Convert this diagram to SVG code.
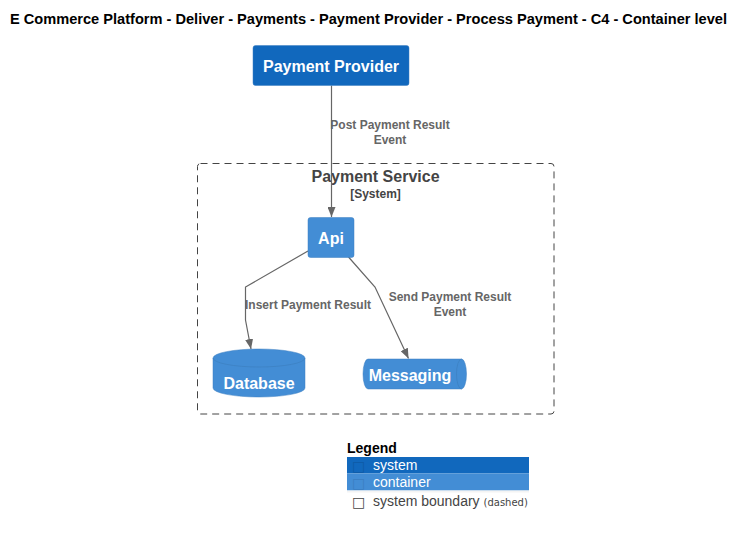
<svg xmlns="http://www.w3.org/2000/svg" width="743" height="535" viewBox="0 0 743 535">
<defs>
<style>
.t{font-family:"Liberation Sans",Arial,sans-serif}
.title{font-size:14.5px;font-weight:bold;fill:#000}
.nl{font-size:16px;font-weight:bold;fill:#fff;text-anchor:middle}
.el{font-size:12px;font-weight:bold;fill:#666;text-anchor:middle}
.edge{fill:none;stroke:#666;stroke-width:1.2;marker-end:url(#ah)}
.lg{font-size:14px}
.tofu{font-family:"DejaVu Sans",sans-serif;font-size:14px}
</style>
<marker id="ah" viewBox="0 0 10 8" refX="10" refY="4" markerWidth="10" markerHeight="8" markerUnits="userSpaceOnUse" orient="auto">
<path d="M0,0 L10,4 L0,8 z" fill="#666"/>
</marker>
</defs>
<rect width="743" height="535" fill="#fff"/>
<text class="t title" x="10" y="24" textLength="717" lengthAdjust="spacingAndGlyphs">E Commerce Platform - Deliver - Payments - Payment Provider - Process Payment - C4 - Container level</text>

<g id="boundary-payment-service">
<rect x="197.5" y="163.5" width="356.5" height="250.5" rx="3" fill="none" stroke="#444" stroke-width="1" stroke-dasharray="7,5"/>
<text class="t" x="375.5" y="182" text-anchor="middle" font-size="16" font-weight="bold" fill="#444">Payment Service</text>
<text class="t" x="375.5" y="198" text-anchor="middle" font-size="12" font-weight="bold" fill="#444">[System]</text>
</g>

<g id="connectors">
<path class="edge" d="M331.5,85.5 L331.5,217"/>
<text class="t el" x="390" y="129">Post Payment Result</text>
<text class="t el" x="390" y="144">Event</text>
<path class="edge" d="M308,251 L245.5,287 L245.5,320 L251,349"/>
<text class="t el" x="308" y="309">Insert Payment Result</text>
<path class="edge" d="M348.5,257 L375,287 L408.5,358.5"/>
<text class="t el" x="450" y="301">Send Payment Result</text>
<text class="t el" x="450" y="316">Event</text>
</g>

<g id="payment-provider">
<rect x="253" y="45.5" width="156" height="40" rx="2.5" fill="#1168BD" stroke="#3C7FC0" stroke-width="0.5"/>
<text class="t nl" x="331" y="72">Payment Provider</text>
</g>

<g id="api">
<rect x="308" y="217.5" width="46" height="40" rx="2.5" fill="#438DD5" stroke="#3C7FC0" stroke-width="0.5"/>
<text class="t nl" x="331" y="244">Api</text>
</g>

<g id="database">
<path d="M213,358 A46,9 0 0 1 305,358 L305,388 A46,9 0 0 1 213,388 Z" fill="#438DD5" stroke="#3C7FC0" stroke-width="0.5"/>
<path d="M213,358 A46,9 0 0 0 305,358" fill="none" stroke="#3C7FC0" stroke-width="0.7"/>
<text class="t nl" x="259" y="389">Database</text>
</g>

<g id="messaging">
<path d="M368,359 L461.5,359 A5,15 0 0 1 461.5,389 L368,389 A5,15 0 0 1 368,359 Z" fill="#438DD5" stroke="#3C7FC0" stroke-width="0.5"/>
<path d="M461.5,359 A5,15 0 0 0 461.5,389" fill="none" stroke="#3C7FC0" stroke-width="0.7"/>
<text class="t nl" x="410" y="381">Messaging</text>
</g>

<g id="legend">
<text class="t" x="347" y="453" font-size="14" font-weight="bold" fill="#000">Legend</text>
<rect x="347" y="457" width="182" height="16.5" fill="#1168BD"/>
<text class="tofu" x="352" y="471" fill="#0E5AA6">□</text>
<text class="t lg" x="373" y="470" fill="#fff">system</text>
<rect x="347" y="473.5" width="182" height="17" fill="#438DD5"/>
<text class="tofu" x="352" y="488" fill="#3A7EC2">□</text>
<text class="t lg" x="373" y="487" fill="#fff">container</text>
<rect x="347" y="490.5" width="182" height="2" fill="#f4f4f4"/>
<text class="tofu" x="352" y="507" fill="#444">□</text>
<text class="t lg" x="373" y="506" fill="#444">system boundary <tspan font-family="DejaVu Sans, sans-serif" font-size="10">(dashed)</tspan></text>
</g>
</svg>
